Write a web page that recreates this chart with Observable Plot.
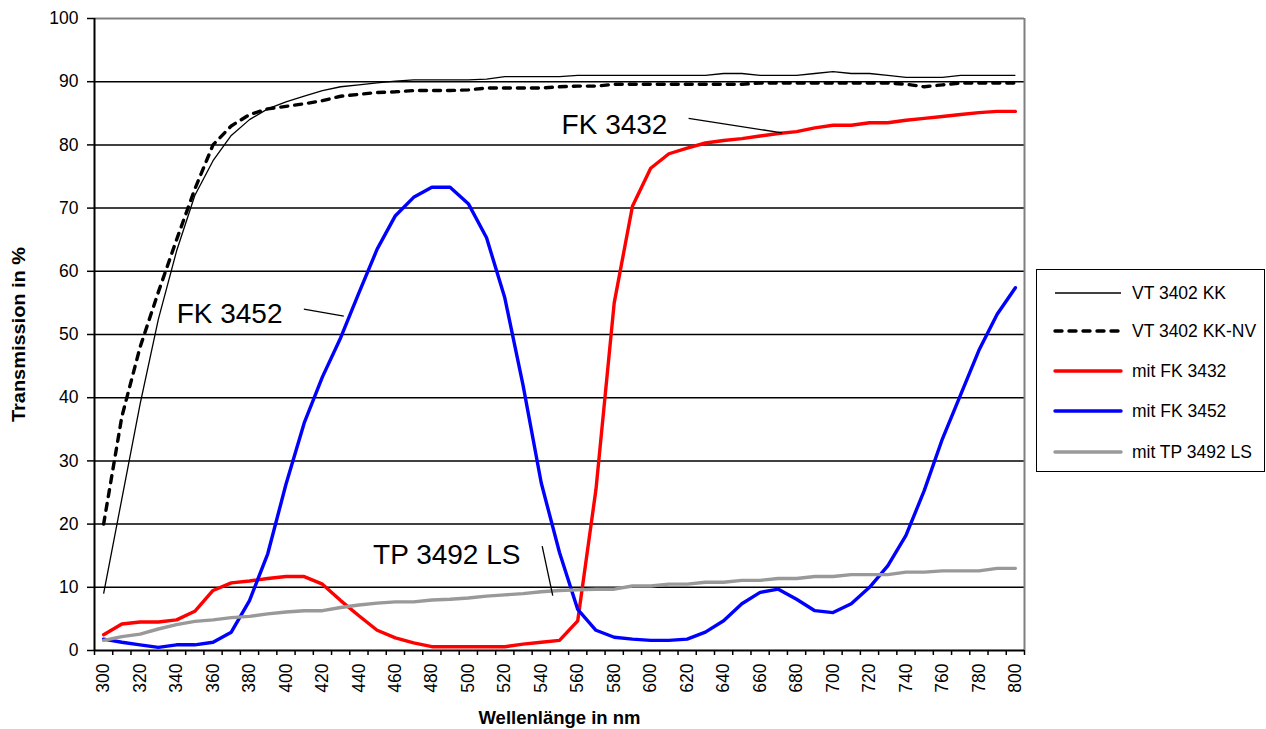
<!DOCTYPE html>
<html>
<head>
<meta charset="utf-8">
<script src="https://cdn.jsdelivr.net/npm/d3@7"></script>
<script src="https://cdn.jsdelivr.net/npm/@observablehq/plot@0.6"></script>
<style>
  html, body { margin: 0; padding: 0; background: #fff; }
  #wrap { position: relative; width: 1266px; height: 729px; overflow: hidden; font-family: "Liberation Sans", Arial, sans-serif; }
  #legend { position: absolute; left: 1036px; top: 269px; width: 227px; height: 201px; border: 1.5px solid #000; background: #fff; }
  #legend .row { position: absolute; left: 0; height: 24px; display: flex; align-items: center; }
  #legend .row span { font-size: 17.5px; color: #000; margin-left: 8px; white-space: nowrap; }
</style>
</head>
<body>
<div id="wrap"><div id="legend"></div></div>
<script>
const wavelengths = [300,310,320,330,340,350,360,370,380,390,400,410,420,430,440,450,460,470,480,490,500,510,520,530,540,550,560,570,580,590,600,610,620,630,640,650,660,670,680,690,700,710,720,730,740,750,760,770,780,790,800];

const vt3402kk = [9,24,39,52.4,63.2,72,77.5,81.5,84,85.7,86.8,87.7,88.6,89.2,89.5,89.8,90.1,90.3,90.3,90.3,90.3,90.4,90.8,90.8,90.8,90.8,91,91,91,91,91,91,91,91,91.3,91.3,91,91,91,91.3,91.6,91.3,91.3,91,90.7,90.7,90.7,91,91,91,91];
const vt3402kknv = [20,37,48,56.7,65,73,80,83,84.8,85.7,86.1,86.5,87,87.7,88,88.3,88.4,88.6,88.6,88.6,88.7,89,89,89,89,89.2,89.3,89.3,89.6,89.6,89.6,89.6,89.6,89.6,89.6,89.6,89.8,89.8,89.8,89.8,89.8,89.8,89.8,89.8,89.6,89.2,89.5,89.8,89.8,89.8,89.8];
const fk3432 = [2.5,4.2,4.5,4.5,4.85,6.2,9.5,10.7,11,11.4,11.7,11.7,10.5,7.9,5.5,3.2,2,1.2,0.6,0.6,0.6,0.6,0.6,1.0,1.3,1.6,4.7,25.5,55,70.3,76.3,78.6,79.5,80.3,80.7,81,81.4,81.8,82.1,82.7,83.1,83.1,83.5,83.5,83.9,84.2,84.5,84.8,85.1,85.3,85.3];
const fk3452 = [1.8,1.3,0.9,0.5,0.9,0.9,1.3,2.9,7.9,15.3,26.3,36,43.3,49.5,56.6,63.5,68.8,71.7,73.3,73.3,70.7,65.3,55.8,42,26.5,15.5,6.5,3.2,2.1,1.8,1.6,1.6,1.8,2.9,4.7,7.4,9.2,9.7,8.1,6.3,6,7.4,10,13.4,18.2,25.3,33.5,40.5,47.5,53.2,57.4];
const tp3492 = [1.6,2.2,2.6,3.4,4.1,4.6,4.85,5.2,5.4,5.8,6.1,6.3,6.3,6.8,7.2,7.5,7.7,7.7,8,8.1,8.3,8.6,8.8,9,9.3,9.5,9.6,9.7,9.7,10.2,10.2,10.5,10.5,10.8,10.8,11.1,11.1,11.4,11.4,11.7,11.7,12,12,12,12.4,12.4,12.6,12.6,12.6,13,13];

const seriesNames = ["VT 3402 KK", "VT 3402 KK-NV", "mit FK 3432", "mit FK 3452", "mit TP 3492 LS"];
const yTicks = [0,10,20,30,40,50,60,70,80,90,100];
const gridValues = [10,20,30,40,50,60,70,80,90];
const xLabelTicks = [300,320,340,360,380,400,420,440,460,480,500,520,540,560,580,600,620,640,660,680,700,720,740,760,780,800];
const xCategoryEdges = [295,305,315,325,335,345,355,365,375,385,395,405,415,425,435,445,455,465,475,485,495,505,515,525,535,545,555,565,575,585,595,605,615,625,635,645,655,665,675,685,695,705,715,725,735,745,755,765,775,785,795,805];

const annotationTexts = ["FK 3432", "FK 3452", "TP 3492 LS"];
const annotationTextX = [609.2, 398.1, 528.6];
const annotationTextY = [83.1, 53.2, 15.1];
const leaderX1 = [620.8, 409.8, 540.5];
const leaderY1 = [84.2, 54.0, 16.5];
const leaderX2 = [672.1, 431.7, 546.3];
const leaderY2 = [81.9, 52.9, 8.7];

const styles = [
  {stroke: "#000000", width: 1.3, dash: null, cap: "butt"},
  {stroke: "#000000", width: 3.4, dash: "7,7", cap: "round"},
  {stroke: "#ff0000", width: 3.4, dash: null, cap: "round"},
  {stroke: "#0000ff", width: 3.4, dash: null, cap: "round"},
  {stroke: "#999999", width: 3.4, dash: null, cap: "round"}
];
const allValues = [vt3402kk, vt3402kknv, fk3432, fk3452, tp3492];

const series = seriesNames.map((name, i) => ({name, values: allValues[i], ...styles[i]}));
const annotations = annotationTexts.map((t, i) => ({t, x: annotationTextX[i], y: annotationTextY[i]}));
const leaders = annotationTexts.map((t, i) => ({x1: leaderX1[i], y1: leaderY1[i], x2: leaderX2[i], y2: leaderY2[i]}));

const lineMarks = series.map(s => Plot.line(
  wavelengths.map((w, j) => ({w, v: s.values[j]})),
  {x: "w", y: "v", stroke: s.stroke, strokeWidth: s.width, strokeDasharray: s.dash, strokeLinecap: s.cap, strokeLinejoin: "round"}
));

const titleFont = "'Liberation Sans Narrow', 'Liberation Sans', Arial, sans-serif";

const chart = Plot.plot({
  width: 1266,
  height: 729,
  marginLeft: 94,
  marginRight: 242,
  marginTop: 18,
  marginBottom: 79,
  style: {fontFamily: "'Liberation Sans', Arial, sans-serif", fontSize: "17px", background: "transparent", color: "#000"},
  x: {domain: [295, 805], axis: null},
  y: {domain: [0, 100], axis: null},
  marks: [
    Plot.ruleY(gridValues, {stroke: "#000", strokeWidth: 1.5}),
    Plot.ruleY([100], {stroke: "#808080", strokeWidth: 2}),
    Plot.ruleX([805], {stroke: "#808080", strokeWidth: 2}),
    ...lineMarks,
    Plot.ruleX([295], {stroke: "#000", strokeWidth: 2}),
    Plot.ruleY([0], {stroke: "#000", strokeWidth: 2}),
    Plot.axisY({ticks: yTicks, tickSize: 7, tickPadding: 9, strokeWidth: 1.5, fontSize: 17.5, label: null}),
    Plot.axisX({ticks: xCategoryEdges, tickSize: 5, tickFormat: () => "", strokeWidth: 1.5, label: null}),
    Plot.axisX({ticks: xLabelTicks, tickSize: 0, tickPadding: 13, tickRotate: -90, fontSize: 17.5, label: null}),
    Plot.link(leaders, {x1: "x1", y1: "y1", x2: "x2", y2: "y2", stroke: "#000", strokeWidth: 1.3}),
    Plot.text(annotations, {x: "x", y: "y", text: "t", textAnchor: "end", fontSize: 28, fill: "#000"}),
    Plot.text(["Transmission in %"], {frameAnchor: "left", textAnchor: "middle", lineAnchor: "middle", dx: -76, rotate: -90, fontSize: 19, fontWeight: "bold", fill: "#000", fontFamily: titleFont, className: "ylab"}),
    Plot.text(["Wellenlänge in nm"], {frameAnchor: "bottom", textAnchor: "middle", lineAnchor: "middle", dy: 67, fontSize: 19, fontWeight: "bold", fill: "#000", fontFamily: titleFont, className: "xlab"})
  ]
});
// condense the bold axis titles to the narrow width seen in the reference
d3.select(chart).selectAll(".ylab text").attr("textLength", 175).attr("lengthAdjust", "spacingAndGlyphs");
d3.select(chart).selectAll(".xlab text").attr("textLength", 162).attr("lengthAdjust", "spacingAndGlyphs");

chart.style.position = "absolute";
chart.style.left = "0";
chart.style.top = "0";
const wrap = document.getElementById("wrap");
wrap.insertBefore(chart, wrap.firstChild);

// Legend (HTML, right side)
const legend = document.getElementById("legend");
const rowTops = [11, 49, 89, 129, 170];
series.forEach((s, i) => {
  const row = document.createElement("div");
  row.className = "row";
  row.style.top = rowTops[i] + "px";
  row.style.left = "15px";
  const ns = "http://www.w3.org/2000/svg";
  const svg = document.createElementNS(ns, "svg");
  svg.setAttribute("width", "72");
  svg.setAttribute("height", "24");
  const ln = document.createElementNS(ns, "line");
  ln.setAttribute("x1", "3"); ln.setAttribute("x2", "69");
  ln.setAttribute("y1", "12"); ln.setAttribute("y2", "12");
  ln.setAttribute("stroke", s.stroke);
  ln.setAttribute("stroke-width", s.width);
  if (s.dash) ln.setAttribute("stroke-dasharray", "7,7");
  ln.setAttribute("stroke-linecap", s.cap);
  svg.appendChild(ln);
  row.appendChild(svg);
  const sp = document.createElement("span");
  sp.textContent = s.name;
  row.appendChild(sp);
  legend.appendChild(row);
});
</script>
</body>
</html>
